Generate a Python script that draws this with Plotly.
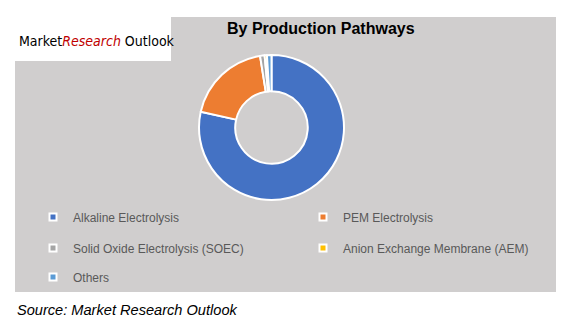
import plotly.graph_objects as go

W, H = 566, 328

labels = ["Alkaline Electrolysis", "PEM Electrolysis", "Solid Oxide Electrolysis (SOEC)",
          "Anion Exchange Membrane (AEM)", "Others"]
values = [77.7, 18.8, 1.0, 0.5, 1.0]
colors = ["#4472C4", "#ED7D31", "#A5A5A5", "#FFC000", "#5B9BD5"]

title_text = "By Production Pathways"
source_text = "Source: Market Research Outlook"


def px(x):
    return x / W


def py(y):
    return 1 - y / H


fig = go.Figure()

cx, cy, r = 271.5, 127.5, 72.5
fig.add_trace(go.Pie(
    labels=labels, values=values, sort=False, direction="clockwise", rotation=0,
    hole=0.5, textinfo="none", showlegend=False,
    marker=dict(colors=colors, line=dict(color="white", width=2)),
    domain=dict(x=[px(cx - r), px(cx + r)], y=[py(cy + r), py(cy - r)]),
    hoverinfo="label+percent",
))

# legend placement (marker centre x, row y)
legend_pos = [(53, 217), (323, 217), (53, 248), (323, 248), (53, 277)]
for i, (lab, col) in enumerate(zip(labels, colors)):
    lname = "legend" if i == 0 else f"legend{i + 1}"
    fig.add_trace(go.Scatter(
        x=[None], y=[None], mode="markers", name=lab,
        marker=dict(symbol="square", size=7, color=col, line=dict(color="white", width=2)),
        legend=lname, showlegend=True,
    ))
    mx, my = legend_pos[i]
    fig.update_layout({lname: dict(
        x=px(mx - 20), y=py(my), xanchor="left", yanchor="middle",
        bgcolor="rgba(0,0,0,0)", borderwidth=0,
        font=dict(family="Liberation Sans, Arial", size=12, color="#595959"),
    )})

fig.update_layout(
    width=W, height=H, margin=dict(l=0, r=0, t=0, b=0),
    paper_bgcolor="white", plot_bgcolor="rgba(0,0,0,0)",
    xaxis=dict(visible=False, range=[0, 1]), yaxis=dict(visible=False, range=[0, 1]),
    shapes=[
        dict(type="rect", xref="paper", yref="paper", x0=px(15), x1=px(556), y0=py(292), y1=py(17),
             fillcolor="#D0CECE", line=dict(width=0), layer="below"),
        dict(type="rect", xref="paper", yref="paper", x0=px(15), x1=px(171), y0=py(61), y1=py(17),
             fillcolor="white", line=dict(width=0), layer="below"),
    ],
    annotations=[
        dict(text=f"<b>{title_text}</b>", x=px(321), y=py(29), xref="paper", yref="paper",
             showarrow=False, xanchor="center", yanchor="middle",
             font=dict(family="Liberation Sans, Arial", size=16, color="black")),
        dict(text="Market<span style='color:#C00000'><i>Research</i></span> Outlook",
             x=px(17), y=py(41), xref="paper", yref="paper", showarrow=False,
             xanchor="left", yanchor="middle",
             font=dict(family="DejaVu Sans Condensed, Liberation Sans", size=14, color="black")),
        dict(text=f"<i>{source_text}</i>", x=px(15), y=py(310), xref="paper", yref="paper",
             showarrow=False, xanchor="left", yanchor="middle",
             font=dict(family="Liberation Sans, Arial", size=14.6, color="black")),
    ],
)

fig.write_html("out.html")
